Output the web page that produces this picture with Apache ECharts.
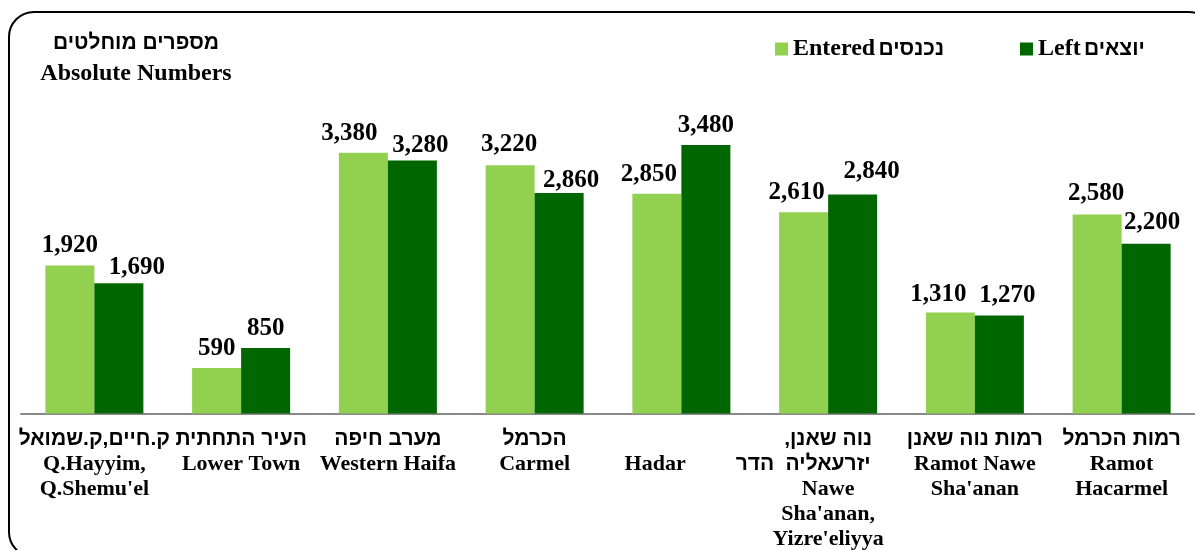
<!DOCTYPE html>
<html>
 <head>
  <meta charset="utf-8">
  <title>Absolute Numbers</title>
  <script src="https://cdn.jsdelivr.net/npm/echarts@6/dist/echarts.min.js"></script>
  <style>
    html, body, #container {
    width: 100%;
    height: 100%;
    margin: 0;
    padding: 0;
    background: #fff;
    }
  </style>
 </head>

<body>
  <div id="container"></div>
  <script>
    // area names, hebrew line(s) on top, english under
    var categoriesHe = ['ק.חיים,ק.שמואל', 'העיר התחתית', 'מערב חיפה', 'הכרמל', 'הדר', 'נוה שאנן,\nיזרעאליה', 'רמות נוה שאנן', 'רמות הכרמל'];
    var categoriesEn = ["Q.Hayyim,\nQ.Shemu'el", 'Lower Town', 'Western Haifa', 'Carmel', 'Hadar', "Nawe\nSha'anan,\nYizre'eliyya", "Ramot Nawe\nSha'anan", 'Ramot\nHacarmel'];
    var enteredValues = [1920, 590, 3380, 3220, 2850, 2610, 1310, 2580];
    var leftValues = [1690, 850, 3280, 2860, 3480, 2840, 1270, 2200];
    var legendNames = { Entered: 'נכנסים', Left: 'יוצאים' };

    // value labels were nudged by hand in the original, [dx, dy] in px
    var enteredLabelShift = [[0, 0], [0, 0], [-14, 0], [-1, -1], [-8, 0], [-7, 0], [-12, 2], [-1, -1]];
    var leftLabelShift = [[18, 4], [0, 0], [8, 5], [12, 7], [0, 0], [19, -3], [8, -1], [6, -2]];

    var serif = "'Liberation Serif', 'Times New Roman', serif";
    var sans = "'Liberation Sans', 'DejaVu Sans', sans-serif";

    // right-to-left marks so trailing commas stay with the hebrew
    function rtl(s) {
      return '\u200F' + s + '\u200F';
    }

    var chartDom = document.getElementById('container');
    var myChart = echarts.init(chartDom);

    var labelRich = {
      he: { fontFamily: sans, fontSize: 21, fontWeight: 'bold', color: '#000', lineHeight: 25 },
      en: { fontFamily: serif, fontSize: 22, fontWeight: 'bold', color: '#000', lineHeight: 25 },
      pad: { fontSize: 10, lineHeight: 25, height: 25 },
      sp: { width: 36 },
      gap: { width: 50 }
    };

    function withShift(values, shifts) {
      return values.map(function (v, i) {
        return { value: v, label: { offset: shifts[i] } };
      });
    }

    var options = {
      animation: false,
      graphic: [
        {
          type: 'rect',
          shape: { x: 9, y: 12, width: 1205, height: 545, r: 25 },
          style: { fill: 'none', stroke: '#000', lineWidth: 2 },
          silent: true
        },
        {
          type: 'text', x: 136, y: 43,
          style: { text: rtl('מספרים מוחלטים'), fontFamily: sans, fontSize: 21, fontWeight: 'bold', fill: '#000', align: 'center', verticalAlign: 'middle' }
        },
        {
          type: 'text', x: 136, y: 74,
          style: { text: 'Absolute Numbers', fontFamily: serif, fontSize: 24, fontWeight: 'bold', fill: '#000', align: 'center', verticalAlign: 'middle' }
        }
      ],
      legend: [
        { data: ['Entered'], left: 775, top: 37 },
        { data: ['Left'], left: 1020, top: 37 }
      ].map(function (l) {
        l.icon = 'rect';
        l.padding = 0;
        l.itemWidth = 13;
        l.itemHeight = 13;
        l.formatter = function (name) {
          return '{en|' + name + '} {he|' + rtl(legendNames[name]) + '}';
        };
        l.textStyle = {
          rich: {
            en: { fontFamily: serif, fontSize: 24, fontWeight: 'bold', color: '#000' },
            he: { fontFamily: sans, fontSize: 21, fontWeight: 'bold', color: '#000' }
          }
        };
        return l;
      }),
      grid: { left: 21, top: 105, width: 1184, bottom: 135 },
      xAxis: {
        type: 'category',
        data: categoriesEn,
        axisLine: { lineStyle: { color: '#898989', width: 2 } },
        axisTick: { length: 6, lineStyle: { color: '#898989', width: 2 } },
        axisLabel: {
          interval: 0,
          margin: 13,
          rich: labelRich,
          formatter: function (val, i) {
            if (categoriesEn[i] === 'Hadar') {
              return '{pad| }\n{sp| }{en|' + categoriesEn[i] + '}{gap| }{he|' + rtl(categoriesHe[i]) + '}';
            }
            var lines = categoriesHe[i].split('\n').map(function (t) { return '{he|' + rtl(t) + '}'; });
            categoriesEn[i].split('\n').forEach(function (t) { lines.push('{en|' + t + '}'); });
            return lines.join('\n');
          }
        }
      },
      yAxis: {
        type: 'value',
        min: 0,
        max: 4000,
        show: false,
        splitLine: { show: false }
      },
      series: [
        {
          name: 'Entered',
          type: 'bar',
          data: withShift(enteredValues, enteredLabelShift),
          barWidth: 49,
          barGap: '0%',
          itemStyle: { color: '#92d050' }
        },
        {
          name: 'Left',
          type: 'bar',
          data: withShift(leftValues, leftLabelShift),
          barWidth: 49,
          itemStyle: { color: '#006600' }
        }
      ].map(function (s) {
        s.label = {
          show: true,
          position: 'top',
          distance: 7,
          fontFamily: serif,
          fontSize: 25,
          fontWeight: 'bold',
          color: '#000',
          formatter: function (p) { return p.value.toLocaleString('en-US'); }
        };
        return s;
      })
    };

    myChart.setOption(options);
  </script>
</body>
</html>
